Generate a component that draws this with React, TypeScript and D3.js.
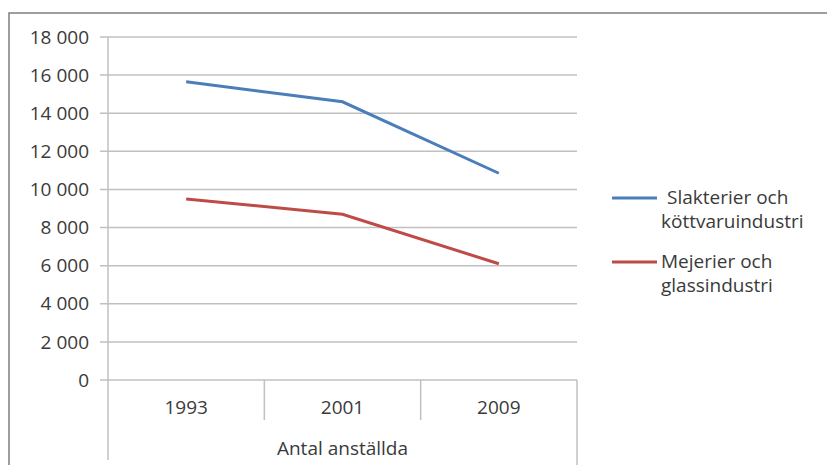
import * as d3 from 'd3';

const years = ['1993', '2001', '2009'];
const slakterier = [15650, 14600, 10850];
const mejerier = [9500, 8700, 6100];
const yTicks = [0, 2000, 4000, 6000, 8000, 10000, 12000, 14000, 16000, 18000];
const seriesNames = [
    ['Slakterier och', 'köttvaruindustri'],
    ['Mejerier och', 'glassindustri'],
];
const colors = ['#4a7ebb', '#be4b48'];

const W = 827;
const H = 465;
const left = 108;
const right = 577;
const top = 37;
const bottom = 380;

export default function App() {
    const x = d3.scaleBand().domain(years).range([left, right]);
    const y = d3.scaleLinear().domain([0, 18000]).range([bottom, top]);
    const fmt = (v: number) => d3.format(',')(v).replace(',', ' ');
    const line = d3
        .line<number>()
        .x((_, i) => (x(years[i]) ?? 0) + x.bandwidth() / 2)
        .y((d) => y(d));
    const series = [slakterier, mejerier];
    const font = '"Open Sans", sans-serif';
    const fs = 19;

    return (
        <svg
            width={W}
            height={H}
            style={{ position: 'absolute', left: 0, top: 0, background: '#fff' }}
            fontFamily={font}
        >
            <rect x={9} y={13} width={W} height={H} fill="#fff" stroke="#7f7f7f" strokeWidth={1.5} />
            {yTicks.map((t) => (
                <g key={t}>
                    <line x1={left - 8} x2={right} y1={y(t)} y2={y(t)} stroke="#c0c0c0" strokeWidth={1.5} />
                    <text x={89} y={y(t)} dy="0.35em" textAnchor="end" fontSize={fs} fill="#3a3a3a">
                        {fmt(t)}
                    </text>
                </g>
            ))}
            <line x1={left} x2={left} y1={top} y2={460} stroke="#c0c0c0" strokeWidth={1.5} />
            {years.map((yr, i) => (
                <g key={yr}>
                    <line
                        x1={(x(yr) ?? 0) + x.bandwidth()}
                        x2={(x(yr) ?? 0) + x.bandwidth()}
                        y1={bottom}
                        y2={i === years.length - 1 ? 465 : 420}
                        stroke="#c0c0c0"
                        strokeWidth={1.5}
                    />
                    <text
                        x={(x(yr) ?? 0) + x.bandwidth() / 2}
                        y={414}
                        textAnchor="middle"
                        fontSize={fs}
                        fill="#3a3a3a"
                    >
                        {yr}
                    </text>
                </g>
            ))}
            <text x={(left + right) / 2} y={455} textAnchor="middle" fontSize={fs} fill="#3a3a3a">
                Antal anställda
            </text>
            {series.map((s, i) => (
                <path key={i} d={line(s) ?? ''} fill="none" stroke={colors[i]} strokeWidth={3} />
            ))}
            {seriesNames.map((names, i) => {
                const ly = 198 + i * 64;
                return (
                    <g key={i}>
                        <line x1={612} x2={657} y1={ly} y2={ly} stroke={colors[i]} strokeWidth={3} />
                        <text x={i === 0 ? 667 : 661} y={ly + 6} fontSize={fs} fill="#3a3a3a">
                            {names[0]}
                        </text>
                        <text x={661} y={ly + 30} fontSize={fs} fill="#3a3a3a">
                            {names[1]}
                        </text>
                    </g>
                );
            })}
        </svg>
    );
}
